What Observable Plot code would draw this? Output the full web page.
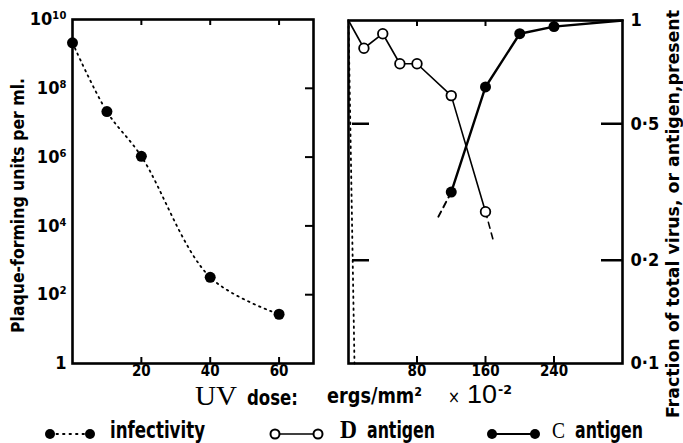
<!DOCTYPE html>
<html><head><meta charset="utf-8">
<script src="https://cdn.jsdelivr.net/npm/d3@7"></script>
<script src="https://cdn.jsdelivr.net/npm/@observablehq/plot@0.6"></script>
<style>
body{margin:0;background:#fff;}
#wrap{position:relative;width:683px;height:443px;overflow:hidden;background:#fff;}
.abs{position:absolute;line-height:1;white-space:nowrap;color:#000;}
#cap{position:absolute;left:0;top:0;pointer-events:none;}
#cap text{fill:#000;}
.sans{font-family:"DejaVu Sans Condensed","Liberation Sans Narrow","Roboto Condensed","DejaVu Sans",sans-serif;font-weight:bold;}
.serif{font-family:"Liberation Serif","DejaVu Serif",serif;font-weight:normal;}
.serifb{font-family:"Liberation Serif","DejaVu Serif",serif;font-weight:bold;}
.plain{font-family:"DejaVu Sans","Liberation Sans",sans-serif;font-weight:normal;}
.lib{font-family:"Liberation Sans","DejaVu Sans",sans-serif;font-weight:normal;}
</style></head><body>
<div id="wrap">
  <div id="left" class="abs" style="left:0;top:0"></div>
  <div id="right" class="abs" style="left:335px;top:0"></div>

  <svg id="cap" width="683" height="443">
    <!-- x-axis title -->
    <text class="sans" y="404.5"><tspan class="serif" x="195" font-size="27" textLength="42" lengthAdjust="spacingAndGlyphs">UV</tspan><tspan x="247" font-size="22" textLength="51" lengthAdjust="spacingAndGlyphs">dose:</tspan></text>
    <text class="sans" x="327" y="403" font-size="22" textLength="95" lengthAdjust="spacingAndGlyphs">ergs/mm²</text>
    <text class="plain" y="403"><tspan x="448" font-size="17" textLength="12" lengthAdjust="spacingAndGlyphs">×</tspan><tspan class="lib" x="467" font-size="25" textLength="30" lengthAdjust="spacingAndGlyphs">10</tspan><tspan class="sans" x="498" y="394" font-size="13" textLength="14" lengthAdjust="spacingAndGlyphs">-2</tspan></text>

    <!-- legend -->
    <line x1="50" x2="90" y1="434" y2="434" stroke="#000" stroke-width="1.8" stroke-dasharray="1.5,5" stroke-linecap="round"/>
    <circle cx="50" cy="434" r="5" fill="#000"/><circle cx="90" cy="434" r="5" fill="#000"/>
    <text class="sans" x="110" y="438" font-size="23" textLength="95" lengthAdjust="spacingAndGlyphs">infectivity</text>

    <line x1="275" x2="318" y1="434" y2="434" stroke="#000" stroke-width="1.6"/>
    <circle cx="275" cy="434" r="4.5" fill="#fff" stroke="#000" stroke-width="2"/><circle cx="318" cy="434" r="4.5" fill="#fff" stroke="#000" stroke-width="2"/>
    <text class="sans" y="438"><tspan class="serifb" x="340" font-size="26" textLength="17" lengthAdjust="spacingAndGlyphs">D</tspan><tspan x="367" font-size="23" textLength="68" lengthAdjust="spacingAndGlyphs">antigen</tspan></text>

    <line x1="492" x2="535" y1="434" y2="434" stroke="#000" stroke-width="2"/>
    <circle cx="492" cy="434" r="5" fill="#000"/><circle cx="535" cy="434" r="5" fill="#000"/>
    <text class="sans" y="438"><tspan class="serif" x="552" font-size="24" textLength="13" lengthAdjust="spacingAndGlyphs">C</tspan><tspan x="575" font-size="23" textLength="68" lengthAdjust="spacingAndGlyphs">antigen</tspan></text>
  </svg>
</div>
<script>
// ---- data: left panel (infectivity, plaque-forming units per ml) ----
const infDose = [0, 10, 20, 40, 60];
const infPfu = [2.1e9, 2.1e7, 1.05e6, 320, 27];
const leftYTicks = [1, 1e2, 1e4, 1e6, 1e8, 1e10];
const leftYTickLabels = ["1", "10²", "10⁴", "10⁶", "10⁸", "10¹⁰"];
const leftXTicks = [20, 40, 60];

// ---- data: right panel (fraction present) ----
const dDose = [0, 18, 40, 60, 80, 120, 160];
const dFrac = [1, 0.83, 0.915, 0.748, 0.748, 0.604, 0.277];
const dExtDose = [160, 170];
const dExtFrac = [0.277, 0.224];
const cDose = [120, 160, 200, 240, 320];
const cFrac = [0.316, 0.64, 0.915, 0.96, 1];
const cExtDose = [120, 105];
const cExtFrac = [0.316, 0.268];
const infFracDose = [0, 7];
const infFrac = [1, 0.1];
const rightYTicks = [0.1, 0.2, 0.5, 1];
const rightYTickLabels = ["0·1", "0·2", "0·5", "1"];
const rightXTicks = [80, 160, 240];

const leftLabel = "Plaque-forming units per ml.";
const rightLabel = "Fraction of total virus, or antigen,present";

const zip = (xs, ys) => xs.map((x, i) => ({x, y: ys[i]}));
const FONT = '"DejaVu Sans Condensed","Liberation Sans Narrow","Roboto Condensed","DejaVu Sans",sans-serif';

// ---- left plot ----
const LW = 335, LH = 390, LML = 72, LMR = 22, LMT = 19, LMB = 27;
const lfw = LW - LML - LMR, lfh = LH - LMT - LMB;
const inf = zip(infDose, infPfu);
const left = Plot.plot({
  width: LW, height: LH,
  marginLeft: LML, marginRight: LMR, marginTop: LMT, marginBottom: LMB,
  style: {fontFamily: FONT, fontWeight: "bold", background: "transparent", overflow: "visible", color: "#000"},
  x: {domain: [0, 70]},
  y: {type: "log", domain: [1, 1e10]},
  marks: [
    Plot.axisY(leftYTicks, {anchor: "left", tickSize: 0, tickPadding: 6, fontSize: 18, label: null,
      tickFormat: d => leftYTickLabels[leftYTicks.indexOf(d)]}),
    Plot.axisX(leftXTicks, {anchor: "bottom", tickSize: 0, tickPadding: 2, fontSize: 15, label: null}),
    Plot.tickY(leftYTicks.slice(1, -1), {y: d => d, insetLeft: lfw - 8, strokeWidth: 2}),
    Plot.tickX(leftXTicks, {x: d => d, insetTop: lfh - 6, strokeWidth: 2}),
    Plot.tickX(leftXTicks, {x: d => d, insetBottom: lfh - 6, strokeWidth: 2}),
    Plot.line(inf, {x: "x", y: "y", curve: "catmull-rom", strokeWidth: 1.8, strokeDasharray: "1.5,4.5", strokeLinecap: "round"}),
    Plot.dot(inf, {x: "x", y: "y", r: 5.5, fill: "#000"}),
    Plot.frame({stroke: "#000", strokeWidth: 2.6}),
    Plot.text([leftLabel], {frameAnchor: "left", textAnchor: "middle", rotate: -90, dx: -54, dy: 14, fontSize: 17, fontWeight: "bold", text: d => d})
  ]
});
document.getElementById("left").appendChild(left);

// ---- right plot ----
const RW = 348, RH = 390, RML = 13, RMR = 61, RMT = 20, RMB = 27;
const rfw = RW - RML - RMR, rfh = RH - RMT - RMB;
const dAll = zip(dDose, dFrac);
const cAll = zip(cDose, cFrac);
const right = Plot.plot({
  width: RW, height: RH,
  marginLeft: RML, marginRight: RMR, marginTop: RMT, marginBottom: RMB,
  style: {fontFamily: FONT, fontWeight: "bold", background: "transparent", overflow: "visible", color: "#000"},
  x: {domain: [0, 320]},
  y: {type: "log", domain: [0.1, 1]},
  marks: [
    Plot.axisY(rightYTicks, {anchor: "right", tickSize: 0, tickPadding: 8, fontSize: 18, label: null,
      tickFormat: d => rightYTickLabels[rightYTicks.indexOf(d)]}),
    Plot.axisX(rightXTicks, {anchor: "bottom", tickSize: 0, tickPadding: 2, fontSize: 15, label: null}),
    Plot.tickY([0.2, 0.5], {y: d => d, insetLeft: rfw - 21, strokeWidth: 2.5}),
    Plot.tickY([0.2, 0.5], {y: d => d, insetLeft: 4, insetRight: rfw - 21, strokeWidth: 2.5}),
    Plot.tickX(rightXTicks, {x: d => d, insetTop: rfh - 7, strokeWidth: 2}),
    Plot.tickX(rightXTicks, {x: d => d, insetBottom: rfh - 6, strokeWidth: 2}),
    Plot.line(zip(infFracDose, infFrac), {x: "x", y: "y", strokeWidth: 1.8, strokeDasharray: "1.5,4.5", strokeLinecap: "round"}),
    Plot.line(dAll, {x: "x", y: "y", strokeWidth: 1.6}),
    Plot.line(zip(dExtDose, dExtFrac), {x: "x", y: "y", strokeWidth: 1.6, strokeDasharray: "6,5"}),
    Plot.line(cAll, {x: "x", y: "y", strokeWidth: 2.4}),
    Plot.line(zip(cExtDose, cExtFrac), {x: "x", y: "y", strokeWidth: 2, strokeDasharray: "6,5"}),
    Plot.dot(dAll.slice(1), {x: "x", y: "y", r: 4.8, fill: "#fff", stroke: "#000", strokeWidth: 1.8}),
    Plot.dot(cAll.slice(0, -1), {x: "x", y: "y", r: 5.5, fill: "#000"}),
    Plot.frame({stroke: "#000", strokeWidth: 2.6}),
    Plot.text([rightLabel], {frameAnchor: "right", textAnchor: "middle", rotate: -90, dx: 51, dy: 22, fontSize: 17, fontWeight: "bold", text: d => d})
  ]
});
document.getElementById("right").appendChild(right);

// fit axis titles to the reference lengths
function fit(svg, label, len) {
  svg.querySelectorAll("text").forEach(t => {
    if (t.textContent === label) { t.setAttribute("textLength", len); t.setAttribute("lengthAdjust", "spacingAndGlyphs"); }
  });
}
fit(left, leftLabel, 255);
fit(right, rightLabel, 408);
</script>
</body></html>
